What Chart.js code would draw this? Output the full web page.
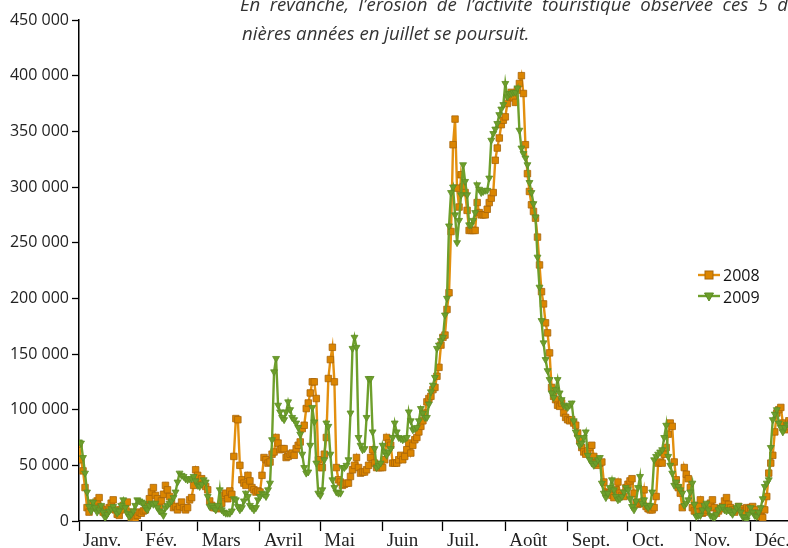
<!DOCTYPE html>
<html lang="fr">
<head>
<meta charset="utf-8">
<title>Fréquentation journalière 2008-2009</title>
<script src="https://cdn.jsdelivr.net/npm/chart.js@4.4.1/dist/chart.umd.min.js"></script>
<style>
  html, body { margin: 0; padding: 0; background: #fff; width: 788px; height: 548px; overflow: hidden; }
  #page { position: relative; width: 788px; height: 548px; overflow: hidden; }
  #box { position: absolute; left: 0; top: 0; width: 840px; height: 548px; }
  .txt { position: absolute; left: 240px; font-family: "Open Sans", sans-serif; font-style: italic;
         font-size: 18.6px; line-height: 20px; color: #333; white-space: nowrap; }
  #l1 { top: -6px; word-spacing: 4.6px; }
  #l2 { top: 23px; left: 242px; }
  #legend { position: absolute; left: 698px; top: 264px; font-family: "Open Sans", sans-serif; font-size: 16px; color: #111; }
  #legend .row { display: flex; align-items: center; height: 22px; }
  #legend svg { margin-right: 3px; }
</style>
</head>
<body>
<div id="page">
  <div id="box"><canvas id="chart" width="840" height="548"></canvas></div>
  <div class="txt" id="l1">En revanche, l’érosion de l’activité touristique observée ces 5 der-</div>
  <div class="txt" id="l2">nières années en juillet se poursuit.</div>
  <div id="legend">
    <div class="row"><svg width="22" height="12"><line x1="0" y1="6" x2="22" y2="6" stroke="#E3900F" stroke-width="2.4"/><rect x="7" y="2" width="8" height="8" fill="#DB8500" stroke="#A8660A" stroke-width="1"/></svg><span>2008</span></div>
    <div class="row"><svg width="22" height="12"><line x1="0" y1="5" x2="22" y2="5" stroke="#6E9F2C" stroke-width="2.4"/><polygon points="6.5,2 15.5,2 11,10" fill="#6C9E2A" stroke="#5A8A22" stroke-width="1"/></svg><span>2009</span></div>
  </div>
</div>
<script>
// axes
const monthLabels = ['Janv.', 'Fév.', 'Mars', 'Avril', 'Mai', 'Juin', 'Juil.', 'Août', 'Sept.', 'Oct.', 'Nov.', 'Déc.'];
const monthStarts = [0, 31, 59, 90, 120, 151, 181, 212, 243, 273, 304, 334];
const yTickValues = [0, 50, 100, 150, 200, 250, 300, 350, 400, 450]; // en milliers
const yTickLabels = ['0', '50 000', '100 000', '150 000', '200 000', '250 000', '300 000', '350 000', '400 000', '450 000'];

// fréquentation journalière, en milliers (un mois par ligne)
const visits2008 = [
  69, 55, 45, 30, 12, 8, 16, 12, 14, 18, 21, 12, 8, 7, 10, 12, 16, 19, 10, 6, 5, 10, 14, 16, 17, 8, 3, 3, 2, 5, 8,
  7, 9, 10, 14, 20, 26, 30, 23, 20, 14, 18, 24, 32, 28, 22, 16, 12, 13, 10, 13, 17, 12, 10, 12, 19, 21, 32, 46,
  41, 35, 38, 33, 31, 28, 18, 14, 12, 12, 11, 12, 16, 23, 25, 20, 27, 24, 58, 92, 91, 50, 37, 34, 32, 41, 36, 30, 28, 26, 27,
  26, 41, 57, 55, 52, 53, 60, 62, 75, 70, 64, 65, 65, 57, 58, 60, 61, 59, 65, 68, 71, 83, 86, 101, 106, 115, 125, 125, 110, 55,
  48, 48, 60, 75, 128, 145, 156, 125, 48, 37, 35, 32, 33, 34, 34, 40, 46, 50, 57, 48, 43, 44, 44, 46, 50, 57, 64, 52, 48, 48, 48,
  48, 55, 75, 70, 68, 52, 52, 52, 55, 59, 55, 58, 64, 70, 61, 68, 73, 75, 80, 85, 90, 97, 107, 110, 112, 118, 120, 130, 138, 158,
  165, 167, 190, 205, 260, 338, 361, 299, 282, 311, 300, 295, 279, 261, 261, 261, 261, 286, 277, 275, 275, 275, 280, 286, 290, 295, 324, 335, 344, 356, 360,
  363, 375, 381, 385, 380, 376, 387, 393, 400, 384, 338, 312, 296, 284, 278, 272, 255, 230, 206, 195, 178, 169, 151, 120, 112, 109, 104, 103, 106, 97, 93,
  91, 90, 91, 88, 86, 79, 72, 66, 62, 60, 63, 66, 68, 58, 52, 50, 52, 53, 35, 26, 25, 25, 23, 21, 28, 35, 25, 23, 22, 30,
  33, 36, 38, 25, 16, 15, 16, 17, 28, 13, 11, 10, 10, 12, 22, 52, 53, 52, 60, 66, 78, 88, 85, 53, 37, 30, 25, 12, 48, 42, 38,
  30, 12, 9, 8, 14, 19, 7, 8, 10, 12, 16, 19, 12, 7, 9, 11, 13, 18, 21, 15, 12, 10, 8, 10, 13, 11, 9, 8, 12, 11,
  12, 13, 10, 7, 5, 4, 3, 10, 22, 43, 52, 59, 80, 97, 100, 102, 88, 82, 85, 90, 88, 85
];
const visits2009 = [
  71, 70, 57, 43, 26, 13, 9, 17, 12, 8, 10, 14, 8, 3, 6, 9, 11, 13, 10, 7, 9, 14, 19, 12, 7, 4, 6, 9, 14, 19, 18,
  17, 16, 12, 10, 14, 16, 15, 16, 12, 9, 8, 5, 12, 14, 16, 18, 21, 26, 35, 43, 41, 40, 38, 37, 38, 38, 40, 36,
  32, 31, 33, 37, 35, 22, 13, 14, 12, 10, 14, 28, 10, 8, 7, 7, 7, 9, 20, 19, 13, 10, 12, 18, 25, 22, 14, 12, 10, 12, 19,
  22, 25, 24, 22, 28, 34, 73, 134, 146, 104, 98, 93, 91, 98, 107, 100, 93, 91, 88, 84, 78, 60, 48, 43, 44, 68, 102, 89, 52, 25,
  23, 28, 55, 88, 85, 60, 37, 30, 26, 25, 25, 48, 48, 50, 55, 97, 155, 165, 156, 75, 68, 64, 65, 93, 128, 128, 80, 65, 48, 50, 52,
  68, 62, 59, 62, 65, 75, 88, 80, 75, 74, 73, 74, 75, 98, 90, 82, 83, 84, 90, 101, 97, 93, 93, 105, 116, 122, 129, 155, 158, 162,
  165, 185, 200, 265, 295, 300, 275, 250, 270, 293, 320, 305, 293, 266, 266, 270, 277, 302, 298, 295, 296, 297, 297, 308, 342, 348, 352, 357, 365, 370, 374,
  393, 381, 384, 384, 385, 385, 389, 351, 335, 330, 326, 320, 304, 295, 285, 273, 237, 210, 180, 160, 145, 135, 127, 115, 111, 118, 127, 115, 109, 104, 103,
  102, 104, 106, 90, 80, 75, 68, 70, 75, 80, 59, 55, 52, 50, 52, 55, 57, 34, 25, 21, 25, 30, 37, 28, 22, 19, 20, 22, 26, 30,
  28, 20, 13, 10, 18, 30, 40, 16, 19, 14, 12, 14, 26, 55, 58, 60, 62, 64, 75, 86, 58, 50, 43, 32, 35, 31, 28, 25, 14, 16, 19,
  26, 34, 15, 4, 5, 5, 10, 14, 16, 10, 5, 4, 3, 6, 10, 12, 13, 10, 9, 10, 8, 6, 9, 12, 14, 8, 4, 3, 1, 6,
  12, 8, 5, 4, 8, 12, 20, 31, 34, 37, 66, 91, 96, 100, 88, 84, 80, 84, 87, 86, 84
];

// jour de l'année (0 = 1er janvier) -> point
const toPoints = arr => arr.map((v, i) => ({ x: i, y: v }));

new Chart(document.getElementById('chart'), {
  type: 'line',
  data: {
    datasets: [
      {
        label: '2009',
        data: toPoints(visits2009),
        order: 0,
        borderColor: '#6E9F2C',
        borderWidth: 2.4,
        backgroundColor: '#6C9E2A',
        pointStyle: 'triangle',
        rotation: 180,
        pointRadius: 4,
        pointBorderColor: '#5E8E24',
        pointBorderWidth: 0.8,
        tension: 0
      },
      {
        label: '2008',
        data: toPoints(visits2008),
        order: 1,
        borderColor: '#E3900F',
        borderWidth: 2.4,
        backgroundColor: '#DB8500',
        pointStyle: 'rect',
        pointRadius: 4.6,
        pointBorderColor: '#A8660A',
        pointBorderWidth: 0.8,
        tension: 0
      }
    ]
  },
  options: {
    responsive: false,
    devicePixelRatio: 1,
    animation: false,
    events: [],
    layout: { padding: { top: 20, right: 27, left: 0, bottom: 0 } },
    plugins: { legend: { display: false }, tooltip: { enabled: false } },
    scales: {
      x: {
        type: 'linear',
        min: 0,
        max: 365,
        afterBuildTicks: s => { s.ticks = monthStarts.map(v => ({ value: v })); },
        afterFit: s => { s.height = 27; },
        grid: { drawOnChartArea: false, tickLength: 10, tickColor: '#000', tickWidth: 1.3 },
        border: { color: '#000', width: 1.5 },
        ticks: {
          autoSkip: false,
          maxRotation: 0,
          align: 'start',
          labelOffset: 4,
          padding: -1,
          color: '#222',
          font: { family: 'Liberation Serif', size: 19 },
          callback: (v, i) => monthLabels[i]
        }
      },
      y: {
        min: 0,
        max: 450,
        afterBuildTicks: s => { s.ticks = yTickValues.map(v => ({ value: v })); },
        afterFit: s => { s.width = 79; },
        grid: { drawOnChartArea: false, tickLength: 7, tickColor: '#000', tickWidth: 1.3 },
        border: { color: '#000', width: 1.5 },
        ticks: {
          padding: 3,
          color: '#222',
          font: { family: 'Open Sans', size: 16 },
          callback: (v, i) => yTickLabels[i]
        }
      }
    }
  }
});
</script>
</body>
</html>
